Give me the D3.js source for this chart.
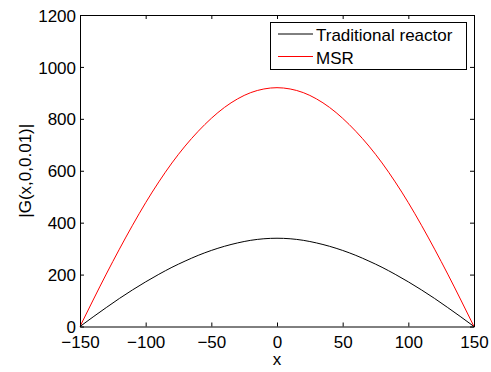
<!DOCTYPE html>
<html>
<head>
<meta charset="utf-8">
<script src="https://cdn.jsdelivr.net/npm/d3@7"></script>
<style>
    body { margin: 0; background: #fff; }
    text { font-family: "Liberation Sans", Arial, sans-serif; fill: #000; }
</style>
</head>
<body>
<script>
//x positions of the sampled points
var xs = [-150, -140, -130, -120, -110, -100, -90, -80, -70, -60, -50, -40, -30, -20, -10, 0,
          10, 20, 30, 40, 50, 60, 70, 80, 90, 100, 110, 120, 130, 140, 150];

//|G| values
var traditional = [0, 37, 73, 108, 141, 172, 201, 228, 252, 274, 293, 309, 322, 332, 338, 340,
                   338, 332, 322, 309, 293, 274, 252, 228, 201, 172, 141, 108, 73, 37, 0];
var msr = [0, 102, 202, 298, 390, 477, 557, 630, 695, 752, 802, 844, 877, 901, 915, 920,
           915, 901, 877, 844, 802, 752, 695, 630, 557, 477, 390, 298, 202, 102, 0];

var xTicks = [-150, -100, -50, 0, 50, 100, 150];
var yTicks = [0, 200, 400, 600, 800, 1000, 1200];
var seriesNames = ["Traditional reactor", "MSR"];
var seriesColors = ["#000000", "#ff0000"];

window.onload = setChart();

function setChart() {
    var width = 491,
        height = 372;
    var left = 80, right = 474, top = 15, bottom = 326.5;

    var svg = d3.select("body")
        .append("svg")
        .attr("width", width)
        .attr("height", height);

    var x = d3.scaleLinear().domain([-150, 150]).range([left, right]);
    var y = d3.scaleLinear().domain([0, 1200]).range([bottom, top]);

    var tickLen = 4;

    //curves
    var line = d3.line()
        .x(function(d, i){ return x(xs[i]); })
        .y(function(d){ return y(d); })
        .curve(d3.curveMonotoneX);

    [traditional, msr].forEach(function(s, k){
        svg.append("path")
            .datum(s)
            .attr("d", line)
            .attr("fill", "none")
            .attr("stroke", seriesColors[k])
            .attr("stroke-width", 1);
    });

    //axes, ticks inside like matlab
    var bottomAxis = svg.append("g")
        .attr("transform", "translate(0," + bottom + ")")
        .call(d3.axisBottom(x).tickValues(xTicks).tickSizeInner(-tickLen).tickSizeOuter(0)
            .tickFormat(function(d){ return d < 0 ? "\u2212" + Math.abs(d) : d; }));
    bottomAxis.selectAll("text").attr("dy", null).attr("y", 21).style("font-size", "17px");

    svg.append("g")
        .attr("transform", "translate(0," + top + ")")
        .call(d3.axisTop(x).tickValues(xTicks).tickSizeInner(-tickLen).tickSizeOuter(0).tickFormat(""));

    var leftAxis = svg.append("g")
        .attr("transform", "translate(" + left + ",0)")
        .call(d3.axisLeft(y).tickValues(yTicks).tickSizeInner(-tickLen).tickSizeOuter(0)
            .tickFormat(d3.format("d")));
    leftAxis.selectAll("text").attr("x", -4).attr("dy", "0.36em").style("font-size", "17px");

    svg.append("g")
        .attr("transform", "translate(" + right + ",0)")
        .call(d3.axisRight(y).tickValues(yTicks).tickSizeInner(-tickLen).tickSizeOuter(0).tickFormat(""));

    svg.selectAll(".domain, .tick line").attr("stroke", "#000");
    svg.selectAll(".tick text").attr("fill", "#000").style("font-family", "Liberation Sans, Arial, sans-serif");

    //axis labels
    svg.append("text")
        .attr("x", (left + right) / 2)
        .attr("y", 365)
        .attr("text-anchor", "middle")
        .style("font-size", "17px")
        .text("x");

    svg.append("text")
        .attr("transform", "translate(31," + ((top + bottom) / 2) + ") rotate(-90)")
        .attr("text-anchor", "middle")
        .style("font-size", "17px")
        .text("|G(x,0,0.01)|");

    //legend
    var legend = svg.append("g");
    legend.append("rect")
        .attr("x", 270.5)
        .attr("y", 22.5)
        .attr("width", 196)
        .attr("height", 47)
        .attr("fill", "#fff")
        .attr("stroke", "#000");

    seriesNames.forEach(function(name, k){
        var ly = 34 + k * 22.5;
        legend.append("line")
            .attr("x1", 278).attr("x2", 313)
            .attr("y1", ly).attr("y2", ly)
            .attr("stroke", seriesColors[k]);
        legend.append("text")
            .attr("x", 316)
            .attr("y", ly + 7)
            .style("font-size", "17px")
            .text(name);
    });
}
</script>
</body>
</html>
